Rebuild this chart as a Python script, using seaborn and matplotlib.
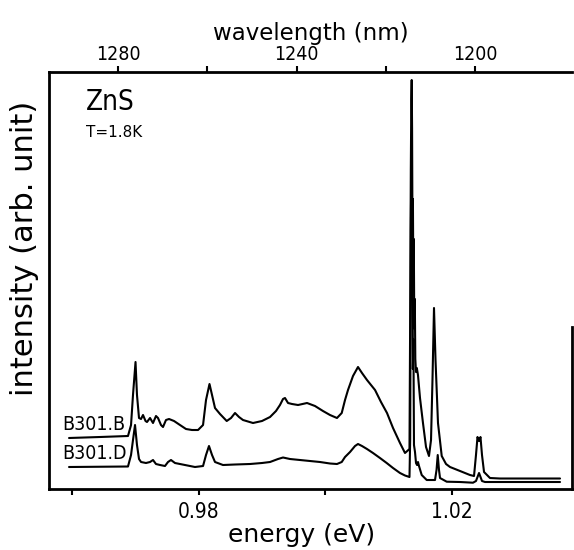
import matplotlib
matplotlib.use("Agg")
import matplotlib.pyplot as plt
import seaborn as sns
import pandas as pd
from matplotlib import font_manager

# ---------------- data ----------------
energy_B = [0.95953, 0.96442, 0.96884, 0.96932, 0.96963, 0.97003, 0.97026, 0.97058, 0.9709, 0.97121,
            0.97161, 0.97184, 0.97232, 0.97279, 0.97326, 0.97358, 0.97405, 0.97437, 0.97484, 0.97532,
            0.97611, 0.97705, 0.978, 0.97895, 0.9799, 0.98069, 0.98116, 0.98171, 0.98211, 0.98258,
            0.98337, 0.98443, 0.98511, 0.98574, 0.98637, 0.987, 0.98858, 0.99, 0.99127, 0.99221,
            0.99284, 0.99332, 0.99363, 0.99411, 0.99474, 0.99569, 0.99711, 0.99837, 0.99963, 1.00074,
            1.00184, 1.00259, 1.00311, 1.00358, 1.00437, 1.00516, 1.00579, 1.00658, 1.00785, 1.00879,
            1.00974, 1.01069, 1.01179, 1.01258, 1.01329, 1.01342, 1.0135, 1.01358, 1.01364, 1.0137,
            1.01377, 1.01383, 1.01389, 1.01397, 1.01405, 1.01413, 1.01421, 1.01432, 1.01445, 1.01463,
            1.01495, 1.01542, 1.0159, 1.01637, 1.01669, 1.01692, 1.01716, 1.0174, 1.01779, 1.01838,
            1.01906, 1.01969, 1.02127, 1.02284, 1.02348, 1.02379, 1.02403, 1.02427, 1.0245, 1.02474,
            1.02506, 1.026, 1.02758, 1.03706]
intensity_B = [0.51, 0.52, 0.53, 0.64, 0.94, 1.27, 0.94, 0.71, 0.70, 0.74,
               0.68, 0.67, 0.71, 0.66, 0.73, 0.71, 0.64, 0.62, 0.69, 0.70,
               0.68, 0.64, 0.60, 0.59, 0.59, 0.64, 0.89, 1.05, 0.94, 0.81,
               0.75, 0.68, 0.71, 0.76, 0.72, 0.69, 0.66, 0.68, 0.72, 0.78,
               0.84, 0.90, 0.91, 0.86, 0.85, 0.84, 0.86, 0.83, 0.78, 0.74,
               0.71, 0.76, 0.89, 0.99, 1.13, 1.22, 1.16, 1.09, 0.99, 0.87,
               0.76, 0.61, 0.46, 0.36, 0.40, 2.00, 3.20, 3.90, 4.09, 3.60,
               2.40, 2.90, 2.20, 2.50, 1.60, 1.90, 1.30, 1.17, 1.21, 1.14,
               0.91, 0.66, 0.42, 0.33, 0.49, 1.09, 1.81, 1.29, 0.66, 0.33,
               0.25, 0.22, 0.18, 0.14, 0.13, 0.34, 0.52, 0.48, 0.52, 0.34,
               0.17, 0.11, 0.105, 0.105]

energy_D = [0.95953, 0.96884, 0.96932, 0.96963, 0.96995, 0.97026, 0.97058, 0.9709, 0.97168, 0.97232,
            0.97279, 0.97326, 0.9739, 0.97468, 0.97516, 0.97563, 0.97626, 0.97784, 0.97942, 0.98069,
            0.98116, 0.98163, 0.98211, 0.98258, 0.98384, 0.98574, 0.98811, 0.99, 0.99127, 0.99253,
            0.99332, 0.99442, 0.996, 0.99758, 0.99916, 1.00074, 1.00184, 1.00259, 1.00311, 1.0039,
            1.00469, 1.00516, 1.00579, 1.00658, 1.00753, 1.00863, 1.00969, 1.01069, 1.01179, 1.01258,
            1.01329, 1.0134, 1.0135, 1.01359, 1.01367, 1.01375, 1.01383, 1.01391, 1.014, 1.01416,
            1.01432, 1.01448, 1.01463, 1.01479, 1.01522, 1.01601, 1.01732, 1.01756, 1.01775, 1.01795,
            1.01811, 1.01917, 1.02127, 1.02332, 1.02379, 1.02427, 1.02474, 1.02521, 1.03706]
intensity_D = [0.22, 0.225, 0.34, 0.49, 0.64, 0.44, 0.30, 0.27, 0.26, 0.27,
               0.29, 0.25, 0.24, 0.23, 0.27, 0.29, 0.26, 0.24, 0.22, 0.23,
               0.34, 0.43, 0.34, 0.27, 0.24, 0.245, 0.25, 0.26, 0.27, 0.30,
               0.315, 0.30, 0.29, 0.28, 0.27, 0.255, 0.25, 0.27, 0.32, 0.37,
               0.43, 0.45, 0.43, 0.40, 0.36, 0.31, 0.26, 0.21, 0.16, 0.135,
               0.12, 0.50, 2.60, 3.30, 2.00, 2.80, 1.20, 1.50, 0.44, 0.37,
               0.26, 0.24, 0.27, 0.23, 0.14, 0.09, 0.09, 0.19, 0.34, 0.19,
               0.11, 0.073, 0.07, 0.063, 0.08, 0.16, 0.08, 0.07, 0.07]

sample_names = ["B301.B", "B301.D"]
energy_ticks = [0.96, 0.98, 1.00, 1.02]
energy_tick_labels = ["", "0.98", "", "1.02"]
wavelength_ticks = [1280, 1260, 1240, 1220, 1200]
wavelength_tick_labels = ["1280", "", "1240", "", "1200"]
# calibration of the printed wavelength scale (linear, as drawn)
E_AT_1280NM = 0.96726
NM_PER_EV = 1419.0

E_MIN, E_MAX = 0.95637, 1.03895
I_MAX = 4.17

# ---------------- fonts ----------------
def pick(cands, default="DejaVu Sans"):
    for c in cands:
        try:
            font_manager.findfont(font_manager.FontProperties(family=c), fallback_to_default=False)
            return c
        except Exception:
            pass
    return default

NARROW = pick(["Liberation Sans Narrow"])
narrow_kw = dict(family=[NARROW, "DejaVu Sans"])
if NARROW == "DejaVu Sans":
    narrow_kw["stretch"] = "condensed"

sns.set_theme(style="ticks")
plt.rcParams["font.family"] = ["DejaVu Sans"]
for k in ["text.color", "axes.labelcolor", "xtick.color", "ytick.color", "axes.edgecolor"]:
    plt.rcParams[k] = "black"

df = pd.concat([
    pd.DataFrame({"energy": energy_B, "intensity": intensity_B, "sample": sample_names[0]}),
    pd.DataFrame({"energy": energy_D, "intensity": intensity_D, "sample": sample_names[1]}),
], ignore_index=True)

fig = plt.figure(figsize=(5.74, 5.5), dpi=100)
ax = fig.add_axes([0.0854, 0.1109, 0.9111, 0.7582])
sns.lineplot(data=df, x="energy", y="intensity", hue="sample", palette=["black", "black"],
             estimator=None, sort=False, legend=False, linewidth=1.5, ax=ax)

ax.set_xlim(E_MIN, E_MAX)
ax.set_ylim(0, I_MAX)
ax.set_yticks([])
ax.set_xticks(energy_ticks)
ax.set_xticklabels(energy_tick_labels, fontsize=15, **narrow_kw)
ax.tick_params(axis="x", direction="out", length=4, width=1.5, pad=5, colors="black")

for s in ["left", "bottom", "top", "right"]:
    ax.spines[s].set_linewidth(2.0)
    ax.spines[s].set_color("black")
ax.spines["right"].set_bounds(0, 1.62)

ax.set_xlabel("energy (eV)", fontsize=18, color="black")
ax.xaxis.set_label_coords(0.482, -0.082)
ax.set_ylabel("intensity (arb. unit)", fontsize=22, color="black")
ax.yaxis.set_label_coords(-0.02, 0.577)

# top wavelength axis (printed scale)
ax2 = ax.twiny()
ax2.set_xlim(1280 - (E_MIN - E_AT_1280NM) * NM_PER_EV, 1280 - (E_MAX - E_AT_1280NM) * NM_PER_EV)
ax2.set_xticks(wavelength_ticks)
ax2.set_xticklabels(wavelength_tick_labels, fontsize=14, **narrow_kw)
ax2.tick_params(axis="x", direction="out", length=4, width=1.5, pad=2, colors="black")
for s in ax2.spines.values():
    s.set_visible(False)
ax2.set_xlabel("wavelength (nm)", fontsize=16.5, labelpad=3, color="black")

# annotations
ax.text(0.0707, 0.962, "ZnS", transform=ax.transAxes, ha="left", va="top", fontsize=20,
        color="black", **narrow_kw)
ax.text(0.0707, 0.873, "T=1.8K", transform=ax.transAxes, ha="left", va="top", fontsize=11,
        color="black")
for name, e, i in [(sample_names[0], energy_B, intensity_B), (sample_names[1], energy_D, intensity_D)]:
    ax.annotate(name, xy=(e[0], i[0]), xytext=(-5, 3), textcoords="offset points",
                ha="left", va="bottom", fontsize=14, color="black", **narrow_kw)

fig.savefig("out.png", dpi=100)
